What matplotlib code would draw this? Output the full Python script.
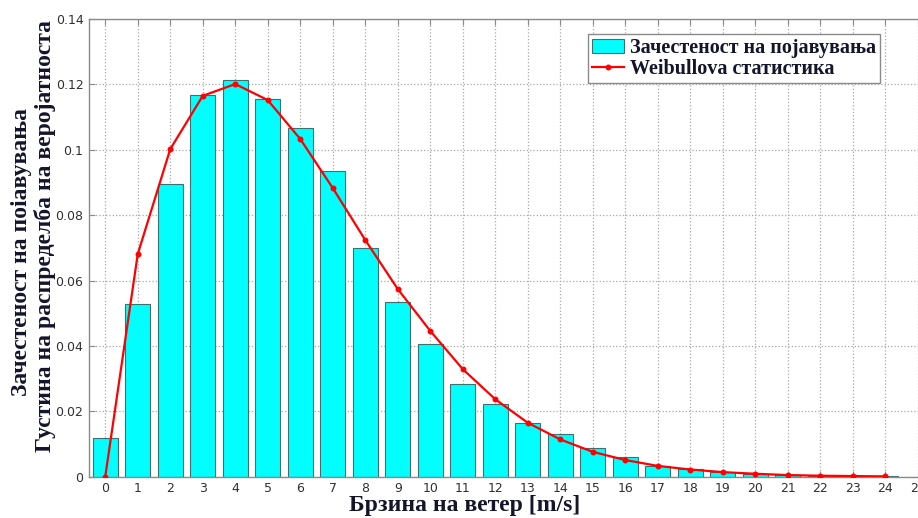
import numpy as np
import matplotlib
matplotlib.use("Agg")
import matplotlib.pyplot as plt

# Data
speeds = list(range(0, 25))
frequency = [0.0119, 0.0528, 0.0895, 0.1168, 0.1213, 0.1155, 0.1067, 0.0935,
             0.0700, 0.0534, 0.0406, 0.0284, 0.0222, 0.0163, 0.0130, 0.0087,
             0.0061, 0.0033, 0.0023, 0.0015, 0.0009, 0.0005, 0.0003, 0.0002,
             0.0001]
weibull = [0.0, 0.0681, 0.1002, 0.1165, 0.1201, 0.1152, 0.1033, 0.0883,
           0.0724, 0.0574, 0.0446, 0.0329, 0.0237, 0.0165, 0.0114, 0.0076,
           0.0051, 0.0033, 0.0022, 0.0014, 0.0009, 0.0005, 0.0003, 0.0002,
           0.0001]
xticks = list(range(0, 26))
yticks = [0, 0.02, 0.04, 0.06, 0.08, 0.1, 0.12, 0.14]
ytick_labels = ["0", "0.02", "0.04", "0.06", "0.08", "0.1", "0.12", "0.14"]

legend_bar = "Зачестеност на појавувања"
legend_line = "Weibullova статистика"
ylabel_1 = "Зачестеност на поіавувања"
ylabel_2 = "Густина на распределба на веројатноста"
xlabel = "Брзина на ветер [m/s]"

W, H = 918, 518
fig = plt.figure(figsize=(W / 100, H / 100), dpi=100)
fig.patch.set_facecolor("white")

left = 89 / W
bottom = (H - 476.7) / H
height = (476.7 - 19) / H
width = 26 * 32.5 / W
ax = fig.add_axes([left, bottom, width, height])

bars = ax.bar(speeds, frequency, width=0.78, color="#00FFFF",
              edgecolor="#3f6f6f", linewidth=0.8, zorder=2,
              label=legend_bar)
line, = ax.plot(speeds, weibull, color="red", lw=1.6, marker=".",
                markersize=6.5, zorder=3, label=legend_line)

ax.set_xlim(-0.5, 25.5)
ax.set_ylim(0, 0.14)
ax.set_xticks(xticks)
ax.set_xticklabels([str(t) for t in xticks])
ax.set_yticks(yticks)
ax.set_yticklabels(ytick_labels)

ax.grid(True, which="major", color="#a8a8a8", linestyle=":", linewidth=0.9,
        zorder=0)
ax.set_axisbelow(True)

for s in ax.spines.values():
    s.set_color("#8a8a8a")
    s.set_linewidth(1.0)

ax.tick_params(axis="both", direction="in", length=4, color="#8a8a8a",
               labelsize=9, labelcolor="#303030", top=True, right=True,
               pad=4)
for lab in ax.get_xticklabels() + ax.get_yticklabels():
    lab.set_fontfamily("DejaVu Sans")

serif = ["Liberation Serif", "DejaVu Serif"]
txtcol = "#14142a"

fig.text(22 / W, 1 - 252 / H, ylabel_1, rotation=90, ha="center",
         va="center", fontsize=17, fontweight="bold", family=serif,
         color=txtcol)
fig.text(45 / W, 1 - 236 / H, ylabel_2, rotation=90, ha="center",
         va="center", fontsize=17, fontweight="bold", family=serif,
         color=txtcol)
fig.text(465 / W, 1 - 506 / H, xlabel, ha="center", va="center",
         fontsize=17, fontweight="bold", family=serif, color=txtcol)

leg = ax.legend(handles=[bars, line], labels=[legend_bar, legend_line],
                loc="upper left",
                bbox_to_anchor=(588 / W, 1 - 34 / H),
                bbox_transform=fig.transFigure,
                prop={"family": serif, "weight": "bold", "size": 14.5},
                frameon=True, fancybox=False, edgecolor="#8a8a8a",
                framealpha=1, borderpad=0.2, labelspacing=0.05,
                handlelength=1.6, handletextpad=0.3, borderaxespad=0)
leg.get_frame().set_linewidth(1.0)
for t in leg.get_texts():
    t.set_color(txtcol)

fig.savefig("out.png", dpi=100)
